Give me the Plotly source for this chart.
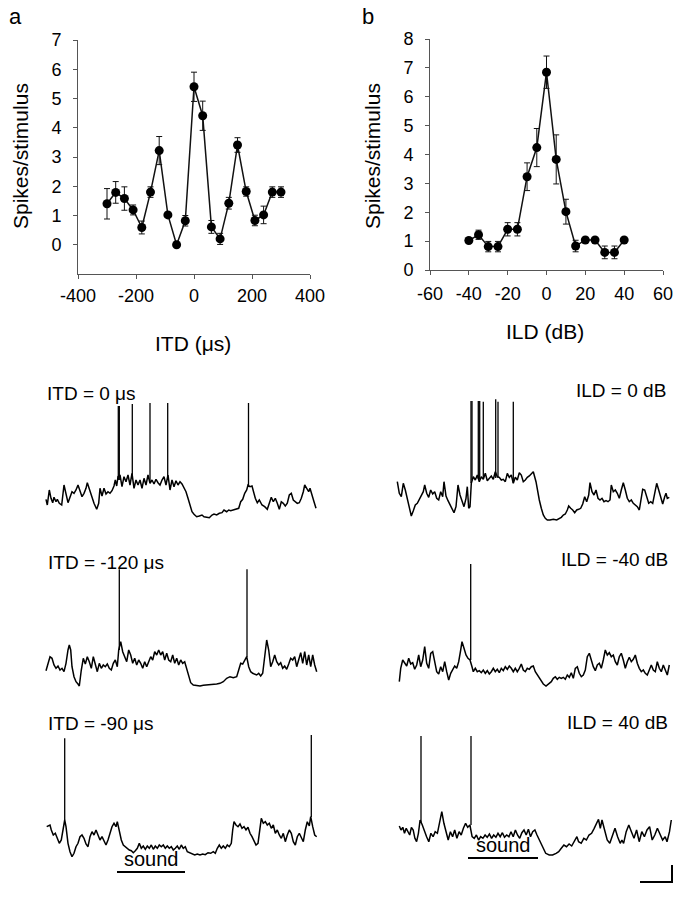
import plotly.graph_objects as go

W, H = 679, 900
FONT = "Liberation Sans, Arial, sans-serif"

# ---------------- tuning curves ----------------
itd_us = [-300, -270, -240, -210, -180, -150, -120, -90, -60, -30, 0,
          30, 60, 90, 120, 150, 180, 210, 240, 270, 300]
itd_rate = [1.40, 1.79, 1.58, 1.19, 0.59, 1.80, 3.22, 1.02, 0.00, 0.82, 5.40,
            4.41, 0.61, 0.20, 1.42, 3.41, 1.82, 0.83, 1.02, 1.80, 1.80]
itd_err = [0.52, 0.37, 0.40, 0.17, 0.22, 0.18, 0.48, 0.05, 0.05, 0.18, 0.50,
           0.50, 0.22, 0.19, 0.20, 0.25, 0.16, 0.18, 0.30, 0.18, 0.18]

ild_db = [-40, -35, -30, -25, -20, -15, -10, -5, 0, 5, 10, 15, 20, 25, 30, 35, 40]
ild_rate = [1.02, 1.22, 0.81, 0.81, 1.41, 1.41, 3.23, 4.24, 6.85, 3.83, 2.02,
            0.83, 1.04, 1.04, 0.61, 0.61, 1.04]
ild_err = [0.05, 0.16, 0.18, 0.18, 0.23, 0.23, 0.48, 0.66, 0.56, 0.85, 0.43,
           0.20, 0.05, 0.05, 0.22, 0.22, 0.05]

itd_ticks = [-400, -200, 0, 200, 400]
itd_yticks = [0, 1, 2, 3, 4, 5, 6, 7]
ild_ticks = [-60, -40, -20, 0, 20, 40, 60]
ild_yticks = [0, 1, 2, 3, 4, 5, 6, 7, 8]

# ---------------- membrane traces (time a.u., voltage a.u.) ----------------
# ITD = 0 us
itd0_t = [1, 2.3, 4.3, 6, 7.7, 9, 11, 12.3, 14.3, 16.7, 19, 21, 23, 25, 27, 29, 31, 33, 35, 37,
          39, 41, 42.3, 45, 47, 49, 51.7, 53.7, 55, 57, 59, 61, 63, 65, 67, 69, 70.3, 71.7, 73,
          75, 77, 79, 81, 83, 85, 87, 89, 91, 93, 95, 97, 99, 101, 103, 105, 107, 109, 111, 113,
          115, 117, 119, 121, 123, 125, 127, 129, 131, 133, 135, 137, 139, 141, 143, 145,
          147, 149, 151.7, 154.3, 157, 159, 161.7, 164.3, 167, 169, 171.7, 174.3, 177, 179, 181.7,
          183.7, 185.7, 188.3, 191, 193.7, 195.7, 197.7, 199.7, 201.7, 203,
          205, 207, 208.3, 210.3, 212.3, 214.3, 217, 219.7, 222.3, 224.3, 226.3, 228.3, 230.3,
          232.3, 234.3, 236.3, 238.3, 240.3, 242.3, 244.3, 246.3, 248.3, 250.3, 252.3, 254.3,
          256.3, 258.3, 259.7, 261.7, 263.7, 265, 267, 269, 271]
itd0_v = [25.7, 20, 35, 26.7, 22.3, 27.7, 23.3, 25.7, 21.7, 20, 40, 30, 22.3, 27.7, 33.3, 31.7, 35, 40, 34.3, 28.3,
          31.7, 36.7, 42.3, 33.3, 28.3, 21.7, 15.7, 21.7, 36.7, 29, 36.7, 31, 33.3, 31.7, 34.3, 39, 45, 39, 48.3,
          50, 38.3, 48.3, 43.3, 50, 40, 51.7, 36.7, 45, 40, 45, 36.7, 46.7, 40, 50, 41.7, 45, 41, 45.7, 42.3,
          40, 45, 48.3, 40, 50, 35, 45, 38.3, 44.3, 40, 43.3, 41, 36.7, 33.3, 26.7, 20,
          13.3, 10.7, 8.3, 9, 10, 8.3, 7.7, 7.3, 10, 11, 10, 11.7, 12.3, 15, 13.3,
          15, 14.3, 15, 15.7, 16.7, 23.3, 25.7, 31.7, 35, 40,
          38.3, 39, 33.3, 26.7, 22.3, 25, 20, 18.3, 15.7, 21.7, 27.7, 23.3, 26.7,
          21.7, 15.7, 23.3, 21.7, 19, 21.7, 30, 31.7, 25, 23.3, 21.7, 22.3,
          26.7, 33.3, 40, 36.7, 33.3, 36.7, 29, 23.3, 16.7]
itd0_spk_t = [73.3, 74.3, 87.3, 105, 122.7, 203.5]
itd0_spk_base = [45, 45, 48, 42, 45, 38]
itd0_spk_peak = [119, 119, 121, 122, 122, 122]

# ILD = 0 dB
ild0_t = [2.3, 4.3, 6.3, 8.3, 10.3, 12.3, 14.3, 16.3, 18.3, 20.3, 22.3, 24.3, 26.3, 28.3, 29.7,
          31.7, 33.7, 35.7, 37.7, 39.7, 41.7, 43.7, 45.7, 47.7, 49, 51, 53, 55, 57, 59, 61, 63,
          65, 67, 69, 71, 72.3, 73.7, 75, 76.3,
          78.3, 80.3, 82.3, 84.3, 86.3, 88.3, 90.3, 92.3, 94.3, 96.3, 98.3, 100.3, 102.3, 104.3,
          106.3, 108.3, 110.3, 112.3, 114.3, 116.3, 118.3, 120.3, 122.3, 124.3, 126.3, 128.3,
          130.3, 132.3, 134.3, 136.3,
          138.3, 141, 142.3, 144.3, 146.3, 148.3, 150.3, 152.3, 155, 158.3, 161.7, 164.3, 166.3,
          168.3, 170.3, 172.3, 173.7, 175.7, 177.7, 179.7, 181.7, 183.7, 185.7, 187.7, 189.7,
          191.7, 193.7, 195, 197, 199, 201, 203, 205, 207, 209, 211, 213, 215, 216.3, 218.3,
          220.3, 222.3, 224.3, 226.3, 228.3, 230.3, 232.3, 234.3, 236.3, 238.3, 240.3, 242.3,
          244.3, 246.3, 247.7, 249.7, 251.7, 253.7, 255.7, 257.7, 259.7, 261.7, 263.7, 265.7,
          267.7, 269.7, 271, 272.3, 274.3]
ild0_v = [43.3, 31.7, 28.3, 41.7, 35, 26.7, 18.3, 9, 14.3, 20, 21.7, 25.7, 29, 33.3, 40,
          31.7, 27.7, 35, 31, 33.3, 26.7, 25, 33.3, 28.3, 43.3, 29, 24.3, 20, 16.7, 12.3, 18.3, 40,
          30, 25, 18.3, 26.7, 38.3, 16.7, 18.3, 41.7,
          48.3, 45, 50, 43.3, 48.3, 45.7, 51.7, 44.3, 46.7, 49, 45.7, 53.3, 48.3, 47.7,
          45, 45.7, 43.3, 51.7, 47.7, 50, 41.7, 47.7, 45, 52.3, 50, 43.3,
          45, 47.7, 49, 51.7,
          53.3, 43.3, 35, 25, 16.7, 10, 6.7, 5, 5, 5.7, 5, 6.7, 7.7,
          10, 11, 15, 19, 16.7, 15, 12.3, 15, 15.7, 16.7, 21, 28.3,
          23.3, 30, 42.3, 33.3, 30, 35, 26.7, 25, 26.7, 23.3, 24.3, 23.3, 25, 40, 33.3,
          35, 31.7, 26.7, 35, 42.3, 35, 26.7, 23.3, 25, 21.7, 20, 18.3,
          15, 25, 35.7, 35, 28.3, 21.7, 23.3, 21.7, 31.7, 41.7, 35, 28.3,
          21, 28.3, 31.7, 26.7, 27.7]
ild0_spk_t = [76, 77, 83.3, 84.7, 88.3, 100.7, 103, 118.3]
ild0_spk_base = [42, 45, 46, 46, 46, 47, 47, 42]
ild0_spk_peak = [124, 124, 124, 124, 123.3, 125.7, 123.3, 123.3]

# ITD = -120 us
itdm120_t = [1, 3.3, 5, 7, 9, 11, 13, 15, 17, 19, 21, 23, 24.3, 25.7, 27, 29, 31, 33, 34.3, 36.3,
             38.3, 40.3, 42.3, 44.3, 46.3, 48.3, 50.3, 52.3, 54.3, 56.3, 58.3, 60.3, 62.3, 64.3,
             66.3, 68.3, 70.3, 72.3, 73.7, 75.7, 77.7, 79.7, 81.7, 83.7, 85.7, 87.7, 89.7, 91.7,
             93.7, 95.7, 97.7, 99.7, 101.7, 103.7, 105.7, 107.7, 109.7, 111.7, 113.7, 115.7,
             117.7, 119.7, 121.7, 123.7, 125.7, 127.7, 129.7, 131.7, 133.7, 135.7, 137.7, 139.7,
             141.7, 143.7, 145.7, 148.3, 151.7, 155, 158.3, 161.7, 165, 168.3, 171.7, 175, 178.3,
             181.7, 185, 188.3, 191.7, 193.7, 195.7, 197.7, 199.7, 201.7, 203.7, 205.7, 207.7,
             209.7, 211.7, 213.7, 215.7, 217.7, 219.7, 221.7, 223.7, 225.7, 227.7, 229.7, 231.7,
             233.7, 235.7, 237.7, 239.7, 241.7, 243.7, 245.7, 247.7, 249.7, 251.7, 253.7, 255.7,
             257.7, 259.7, 261.7, 263.7, 265.7, 267.7, 269.7, 271.7]
itdm120_v = [24.3, 33.3, 38.3, 36.7, 30, 26.7, 29, 25, 26.7, 23.3, 31.7, 45, 50, 45, 28.3, 18.3, 13.3, 11, 9, 25,
             36.7, 31, 38.3, 33.3, 26.7, 38.3, 31.7, 23.3, 31.7, 26.7, 30, 28.3, 31, 26.7,
             25, 31.7, 35, 28.3, 45, 53.3, 43.3, 38.3, 33.3, 45, 40, 31.7, 36.7, 30,
             35, 31.7, 26.7, 33.3, 28.3, 33.3, 38.3, 35, 43.3, 40, 45, 40,
             43.3, 35, 41.7, 35, 33.3, 40, 31.7, 36.7, 30, 35, 31.7, 33.3,
             26.7, 18.3, 12.3, 10, 9.7, 9, 9.7, 10, 9.7, 10.3, 11, 11.7, 13.3,
             16.7, 18.3, 17.3, 18.3, 25, 31.7, 31, 35, 38.3, 28.3, 23.3, 21.7,
             21, 20, 21.7, 19, 21.7, 36.7, 55, 45, 28.3, 33.3, 40, 33.3,
             30, 32.3, 26.7, 29, 25.7, 31, 36.7, 35, 38.3, 28.3, 36.7, 42.3,
             31.7, 43.3, 30, 40, 28.3, 40, 30, 23.3]
itdm120_spk_t = [74.3, 202]
itdm120_spk_base = [45, 38]
itdm120_spk_peak = [125.7, 125.7]

# ILD = -40 dB
ildm40_t = [4.3, 5.7, 7.7, 9.7, 11.7, 13.7, 15.7, 17.7, 19.7, 21.7, 23.7, 25.7, 27.7, 29.7, 31.7,
            33.7, 35.7, 37.7, 39.7, 41.7, 43.7, 45.7, 47.7, 49.7, 51.7, 53.7, 55.7, 57.7, 59.7,
            61.7, 63.7, 65.7, 67, 69, 71, 73, 75, 77, 78.3, 80.3, 82.3, 84.3, 86.3, 88.3, 90.3,
            92.3, 94.3, 96.3, 98.3, 100.3, 102.3, 104.3, 106.3, 108.3, 110.3, 112.3, 114.3, 116.3,
            118.3, 120.3, 122.3, 124.3, 126.3, 128.3, 130.3, 132.3, 134.3, 136.3, 138.3, 140.3,
            142.3, 144.3, 146.3, 148.3, 151, 153.7, 156.3, 158.3, 160.3, 162.3, 164.3, 166.3,
            168.3, 170.3, 172.3, 174.3, 176.3, 178.3, 180.3, 182.3, 184.3, 186.3, 188.3, 190.3,
            192.3, 194.3, 196.3, 198.3, 200.3, 202.3, 204.3, 206.3, 208.3, 210.3, 212.3, 214.3,
            216.3, 218.3, 220.3, 222.3, 224.3, 226.3, 228.3, 230.3, 232.3, 234.3, 236.3, 238.3,
            240.3, 242.3, 244.3, 246.3, 248.3, 250.3, 252.3, 254.3, 256.3, 258.3, 260.3, 262.3,
            264.3, 266.3, 268.3, 270.3, 272.3, 274.3]
ildm40_v = [13.3, 26.7, 35, 32.3, 29, 36.7, 31, 32.3, 25.7, 30, 40, 28.3, 35, 48.3, 31.7,
            26.7, 41.7, 43.3, 31, 23.3, 21, 28.3, 23.3, 33.3, 23.3, 15, 21.7, 25, 29,
            26.7, 33.3, 45, 53.3, 46.7, 40, 36.7, 35, 28.3, 23.3, 26.7, 23.3, 24.3, 22.3, 25, 21.7,
            24.3, 21, 23.3, 26.7, 23.3, 25.7, 22.3, 26.7, 24.3, 28.3, 25.7, 29, 26.7,
            23.3, 26.7, 23.3, 26.7, 31, 25, 23.3, 26.7, 25.7, 28.3, 29, 23.3,
            20, 16.7, 13.3, 11, 9, 11, 13.3, 16.7, 18.3, 15.7, 17.7, 16.7,
            17.7, 15.7, 20, 17.7, 22.3, 16.7, 26.7, 28.3, 21.7, 18.3, 20, 25,
            38.3, 41.7, 35, 28.3, 24.3, 30, 31.7, 26.7, 35, 45, 40, 42.3,
            38.3, 40, 33.3, 30, 38.3, 41.7, 35, 26.7, 33.3, 37.7, 33.3, 35.7,
            40, 31.7, 26.7, 23.3, 25, 21.7, 20, 24.3, 30, 25, 23.3, 33.3,
            26.7, 23.3, 30, 25, 20, 30]
ildm40_spk_t = [75.7]
ildm40_spk_base = [35]
ildm40_spk_peak = [131]

# ITD = -90 us
itdm90_t = [1.7, 3.7, 5, 6.3, 8.3, 10.3, 12.3, 14.3, 16.3, 18.3, 19.7, 21, 23, 25, 27, 29, 31, 33,
            35, 37, 39, 41, 43, 45, 47, 49, 51, 53, 55, 57, 59, 61, 63, 65, 67, 69, 71, 72.3,
            74.3, 76.3, 78.3, 80.3, 82.3, 84.3, 86.3, 88.3, 90.3, 92.3, 94.3, 96.3, 98.3, 100.3,
            102.3, 104.3, 106.3, 108.3, 110.3, 112.3, 114.3, 116.3, 118.3, 120.3, 122.3, 124.3,
            126.3, 128.3, 130.3, 132.3, 134.3, 136.3, 138.3, 140.3, 142.3, 144.3, 147, 149.7,
            152.3, 155, 157.7, 160.3, 163, 165.7, 168.3, 170.3, 172.3, 174.3, 176.3, 178.3,
            180.3, 182.3, 184.3, 186.3, 187.7, 189, 191, 193, 195, 197, 199, 201, 203, 205, 207,
            209, 211, 213, 215, 216.3, 218.3, 220.3, 222.3, 224.3, 226.3, 228.3, 230.3, 232.3,
            234.3, 236.3, 238.3, 240.3, 242.3, 244.3, 246.3, 248.3, 250.3, 252.3, 254.3, 256.3,
            258.3, 260.3, 262.3, 264.3, 265.7, 267.7, 269.7, 271.7]
itdm90_v = [35.3, 36, 37, 32, 27, 28.7, 23.7, 18.7, 22, 35.3, 42, 35.3, 18.7, 10.3, 5.3, 8.7, 15.3, 18.7,
            25.3, 27, 23.7, 18, 15.3, 25.3, 30.3, 27, 32, 27, 22, 25.3, 20.3, 17, 22, 28.7, 35.3, 38.7, 35.3, 40.3,
            32, 22, 17, 15.3, 13.7, 12, 11.3, 9.3, 11.3, 13.7, 18.7, 13.7, 16, 12.7,
            16, 13.7, 17, 12.7, 16, 13.7, 17, 15.3, 17, 13.7, 16, 13.7,
            15.3, 12, 13.7, 16, 12.7, 17, 13.7, 15.3, 10.3, 9.3, 8, 7,
            8, 7, 8, 7.3, 9.3, 8.7, 10.3, 8.7, 13.7, 17, 13.7, 16,
            13.7, 17, 15.3, 18.7, 32, 40.3, 37, 35.3, 38, 33.7, 35.3, 32, 34.7, 28.7, 25.3,
            20.3, 17, 18.7, 32, 43.7, 38.7, 40.3, 37, 38.7, 33.7, 37, 28.7, 32,
            27, 23.7, 28.7, 20.3, 27, 32, 28.7, 20.3, 17, 25.3, 28.7, 23.7,
            20.3, 32, 40.3, 36, 45.3, 35.3, 27, 25.3]
itdm90_spk_t = [19.7, 266.3]
itdm90_spk_base = [42, 45]
itdm90_spk_peak = [123.7, 127]

# ILD = 40 dB
ild40_t = [4.3, 6, 7.8, 9.5, 11.2, 13, 14.7, 16.4, 18.2, 19.9, 21.6, 23.4, 25.1, 27.3, 29.4, 31.6,
           33.8, 35.9, 38.1, 40.2, 42.4, 44.6, 46.8, 48.9, 51.1, 53.2, 55.4, 57.6, 59.7, 61.9,
           64.1, 66.2, 68.4, 70.6, 72.7, 74.9, 77.1, 79.2, 81.4, 83.6, 85.7, 87.9, 90.1, 92.2,
           94.4, 96.6, 98.7, 100.9, 103, 105.2, 107.4, 109.5, 111.7, 113.9, 116, 118.2, 120.4,
           122.5, 124.7, 126.9, 129, 131.2, 133.4, 135.5, 137.7, 139.9, 142, 144.2, 146.4, 148.5,
           150.7, 154.2, 157.6, 161.1, 163.7, 166.3, 168.9, 171.5, 174.1, 176.7, 179.3, 181.9,
           183.6, 186.2, 188.8, 191.4, 194, 196.6, 199.2, 201.8, 203.5, 205.3, 207, 209.6, 212.2,
           214.8, 217.4, 220, 222.6, 225.2, 226.9, 228.6, 231.2, 233.8, 236.4, 239, 241.6, 244.2,
           246.8, 249.4, 252, 254.6, 257.2, 259.8, 262.4, 265, 267.6, 270.2, 272, 274.5, 276.3]
ild40_v = [36, 32, 34.7, 28.7, 33.7, 30.3, 27, 34.7, 32, 23.7, 20.3, 28.7, 42, 37, 30.3, 25.3,
           20.3, 28.7, 25.3, 30.3, 28.7, 40.3, 50.3, 38.7, 28.7, 22, 30.3, 25.3, 32, 23.7,
           30.3, 27, 33.7, 38.7, 34.7, 37, 25.3, 23.7, 27, 22, 25.3, 23.7, 27, 24.7,
           28, 23.7, 27, 24.7, 28.7, 25.3, 29.3, 24.7, 27, 25.3, 30.3, 25.3, 32,
           27, 23.7, 29.3, 32, 27, 32.7, 25.3, 30.3, 32, 27, 22, 17, 12,
           8.7, 7, 7, 8.7, 10.3, 13.7, 17, 15.3, 18, 16, 20.3, 25.3,
           20.3, 18.7, 23.7, 22, 27, 28.7, 33.7, 40.3, 42.7, 33.7, 42, 32, 22,
           18.7, 25.3, 33.7, 25.3, 18.7, 22, 18.7, 30.3, 37, 30.3, 23.7, 32, 20.3,
           30.3, 25.3, 32, 35.3, 22, 27, 33.7, 27, 22, 25.3, 20.3, 30.3, 42]
ild40_spk_t = [26, 76]
ild40_spk_base = [40, 37]
ild40_spk_peak = [126, 126]

# stimulus bars and scale bar (same time / voltage units as the traces)
sound_left_t = [72, 140]
sound_left_v = -10
sound_right_t = [73, 143]
sound_right_v = 4
scale_t = [245, 277]
scale_v = [-20, -3]

trace_sets = [
    ("ITD = 0 \u03bcs", itd0_t, itd0_v, itd0_spk_t, itd0_spk_base, itd0_spk_peak),
    ("ILD = 0 dB", ild0_t, ild0_v, ild0_spk_t, ild0_spk_base, ild0_spk_peak),
    ("ITD = -120 \u03bcs", itdm120_t, itdm120_v, itdm120_spk_t, itdm120_spk_base, itdm120_spk_peak),
    ("ILD = -40 dB", ildm40_t, ildm40_v, ildm40_spk_t, ildm40_spk_base, ildm40_spk_peak),
    ("ITD = -90 \u03bcs", itdm90_t, itdm90_v, itdm90_spk_t, itdm90_spk_base, itdm90_spk_peak),
    ("ILD = 40 dB", ild40_t, ild40_v, ild40_spk_t, ild40_spk_base, ild40_spk_peak),
]
for name, t, v, *_ in trace_sets:
    assert len(t) == len(v), (name, len(t), len(v))


# ---------------- layout helpers (page pixel -> paper fraction) ----------------
def px(p):
    return p / W


def py(p):
    return 1 - p / H


def dx(a, b):
    return [px(a), px(b)]


def dy(top, bottom):
    return [py(bottom), py(top)]


AXC = "#555555"
fig = go.Figure()

# panel a
fig.add_trace(go.Scatter(
    x=itd_us, y=itd_rate, mode="lines+markers", xaxis="x", yaxis="y",
    line=dict(color="#111111", width=1.5),
    marker=dict(color="#000000", size=9),
    error_y=dict(type="data", array=itd_err, visible=True, color="#111111", thickness=1, width=3),
    showlegend=False))
# panel b
fig.add_trace(go.Scatter(
    x=ild_db, y=ild_rate, mode="lines+markers", xaxis="x2", yaxis="y2",
    line=dict(color="#111111", width=1.5),
    marker=dict(color="#000000", size=9),
    error_y=dict(type="data", array=ild_err, visible=True, color="#111111", thickness=1, width=3),
    showlegend=False))

# traces
for i, (name, t, v, st, sb, sp) in enumerate(trace_sets):
    k = i + 3
    fig.add_trace(go.Scatter(x=t, y=v, mode="lines", xaxis=f"x{k}", yaxis=f"y{k}",
                             line=dict(color="#000000", width=1.5), showlegend=False,
                             hoverinfo="skip"))
    sx, sy = [], []
    for tt, b, p in zip(st, sb, sp):
        sx += [tt, tt, None]
        sy += [b, p, None]
    fig.add_trace(go.Scatter(x=sx, y=sy, mode="lines", xaxis=f"x{k}", yaxis=f"y{k}",
                             line=dict(color="#000000", width=1.3), showlegend=False,
                             hoverinfo="skip"))

# sound bars and scale bar
fig.add_trace(go.Scatter(x=sound_left_t, y=[sound_left_v] * 2, mode="lines", xaxis="x7", yaxis="y7",
                         line=dict(color="#000000", width=2.2), showlegend=False))
fig.add_trace(go.Scatter(x=sound_right_t, y=[sound_right_v] * 2, mode="lines", xaxis="x8", yaxis="y8",
                         line=dict(color="#000000", width=2.2), showlegend=False))
fig.add_trace(go.Scatter(x=[scale_t[0], scale_t[1], scale_t[1]], y=[scale_v[0], scale_v[0], scale_v[1]],
                         mode="lines", xaxis="x8", yaxis="y8",
                         line=dict(color="#000000", width=2), showlegend=False))

tickfont = dict(family=FONT, size=18, color="#000000")
common_axis = dict(showgrid=False, zeroline=False, showline=True, linecolor=AXC, linewidth=1,
                   ticks="outside", ticklen=4, tickcolor=AXC, tickfont=tickfont, automargin=False)

layout = dict(
    template="none",
    width=W, height=H, autosize=False, margin=dict(l=0, r=0, t=0, b=0, pad=0),
    paper_bgcolor="white", plot_bgcolor="white", showlegend=False,
    font=dict(family=FONT, color="#000000"),
    xaxis=dict(domain=dx(78, 310), range=[-400, 400], tickvals=itd_ticks,
               ticktext=[str(v) for v in itd_ticks], anchor="y",
               ticklabelstandoff=1, **common_axis),
    yaxis=dict(domain=dy(40, 274), range=[-1, 7], tickvals=itd_yticks,
               ticktext=[str(v) for v in itd_yticks], anchor="x",
               ticklabelstandoff=8, **common_axis),
    xaxis2=dict(domain=dx(430, 663), range=[-60, 60], tickvals=ild_ticks,
                ticktext=[str(v) for v in ild_ticks], anchor="y2",
                ticklabelstandoff=3, **common_axis),
    yaxis2=dict(domain=dy(39, 270), range=[0, 8], tickvals=ild_yticks,
                ticktext=[str(v) for v in ild_yticks], anchor="x2",
                ticklabelstandoff=8, **common_axis),
)

panels = [
    (3, (45, 320), (395, 525), [0, 275], [0, 130]),
    (4, (395, 673), (395, 525), [0, 278], [0, 130]),
    (5, (45, 320), (555, 695), [0, 275], [0, 140]),
    (6, (395, 673), (555, 695), [0, 278], [0, 140]),
    (7, (45, 320), (728, 890), [0, 275], [-28, 134]),
    (8, (395, 673), (728, 890), [0, 278], [-28, 134]),
]
for k, (x0, x1), (y0, y1), xr, yr in panels:
    layout[f"xaxis{k}"] = dict(domain=dx(x0, x1), range=xr, visible=False, anchor=f"y{k}",
                               fixedrange=True, automargin=False)
    layout[f"yaxis{k}"] = dict(domain=dy(y0, y1), range=yr, visible=False, anchor=f"x{k}",
                               fixedrange=True, automargin=False)

fig.update_layout(**layout)


def ann(text, x, y, size, xanchor="center", yanchor="middle", angle=0, xref="paper", yref="paper"):
    fig.add_annotation(text=text, x=x, y=y, xref=xref, yref=yref, showarrow=False,
                       xanchor=xanchor, yanchor=yanchor, textangle=angle,
                       font=dict(family=FONT, size=size, color="#000000"))


ann("a", px(15), py(16), 22)
ann("b", px(368), py(16), 22)
ann("Spikes/stimulus", px(20), py(156), 21, angle=-90)
ann("Spikes/stimulus", px(372), py(156), 21, angle=-90)
ann("ITD (\u03bcs)", px(193), py(343), 21)
ann("ILD (dB)", px(545), py(331), 21)

ann(trace_sets[0][0], px(45), py(393), 19, xanchor="left")
ann(trace_sets[1][0], px(668), py(390), 19, xanchor="right")
ann(trace_sets[2][0], px(46), py(562), 19, xanchor="left")
ann(trace_sets[3][0], px(670), py(559), 19, xanchor="right")
ann(trace_sets[4][0], px(46), py(723), 19, xanchor="left")
ann(trace_sets[5][0], px(670), py(722), 19, xanchor="right")

ann("sound", sum(sound_left_t) / 2, sound_left_v + 13, 20, xref="x7", yref="y7")
ann("sound", sum(sound_right_t) / 2, sound_right_v + 13, 20, xref="x8", yref="y8")

fig.write_html(
    "out.html",
    config={"displayModeBar": False},
    post_script="document.body.style.margin='0';document.body.style.overflow='hidden';",
)
